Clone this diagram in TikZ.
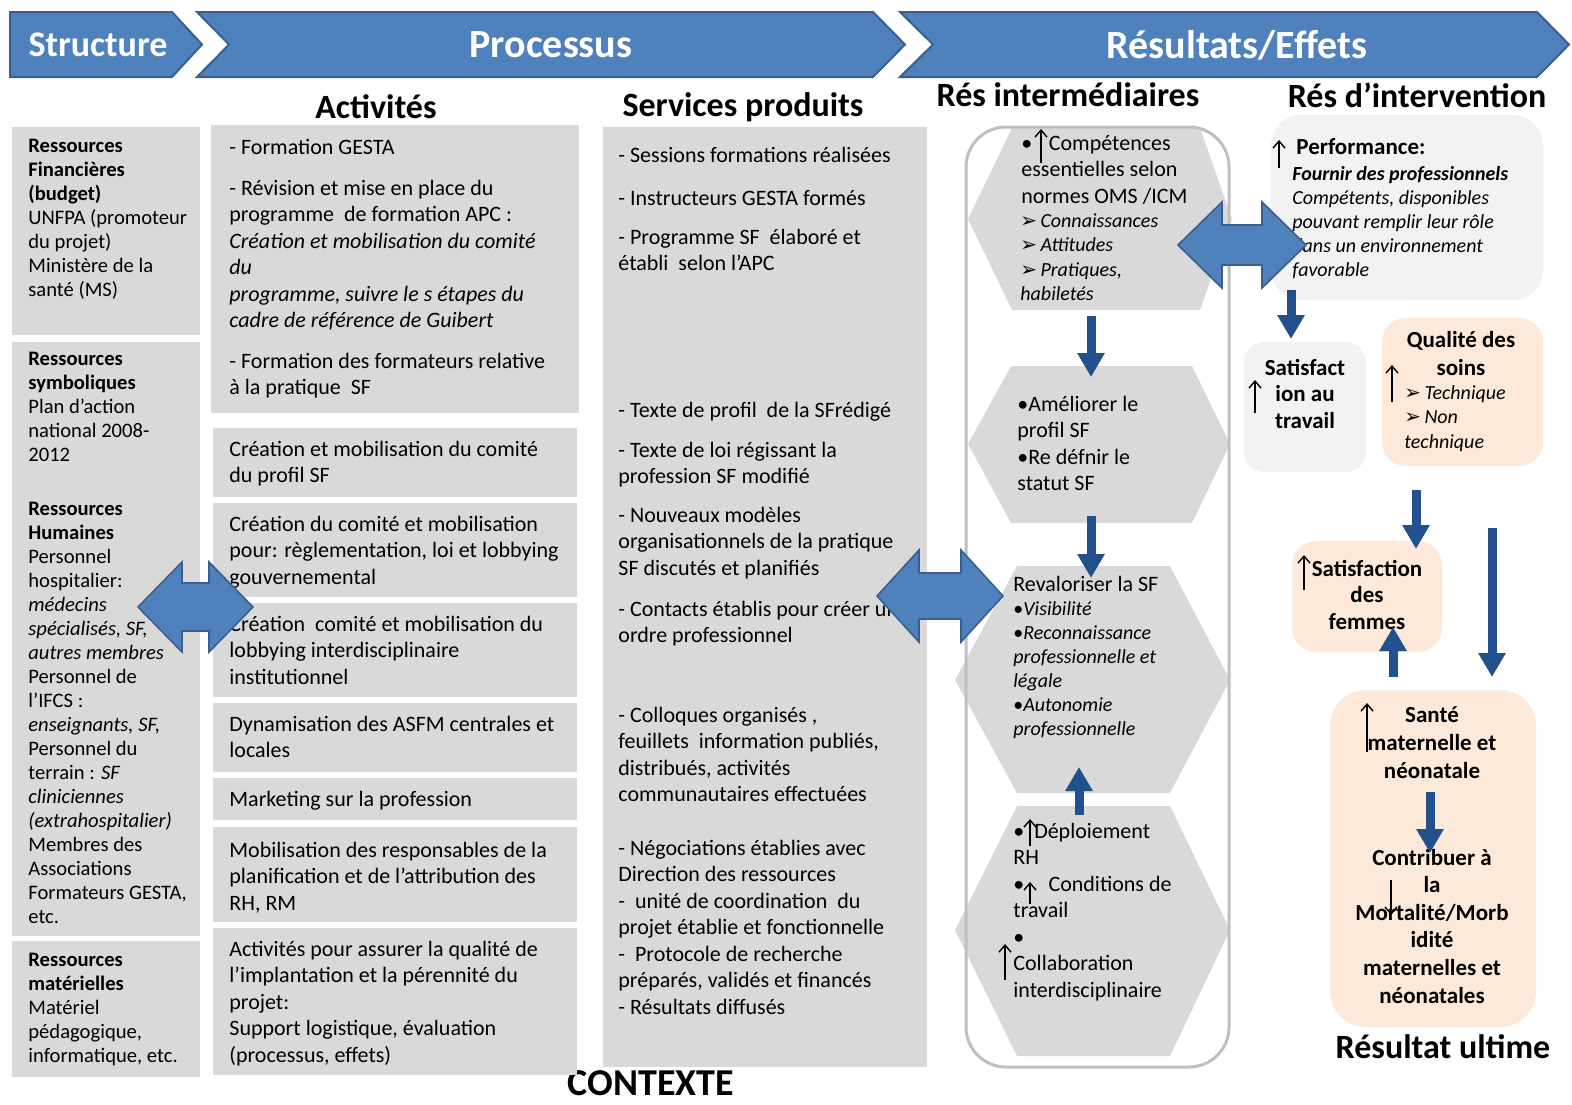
\documentclass[tikz,border=0pt]{standalone}
\usepackage{fontspec}
\setmainfont{Carlito}
\newfontfamily\dvsans{DejaVu Sans}
\usetikzlibrary{arrows.meta,fit}
\definecolor{bannerblue}{HTML}{4F81BD}
\definecolor{bannerline}{HTML}{3A5F8C}
\definecolor{boxgray}{HTML}{D9D9D9}
\definecolor{softgray}{HTML}{F2F2F2}
\definecolor{peach}{HTML}{FDE9D9}
\definecolor{navy}{HTML}{22508C}
\definecolor{framegray}{HTML}{BFBFBF}
% strut that fixes the top of every text block just under one em above its first baseline
\newcommand{\topln}{\rule{0pt}{0.9em}}
% list pointer glyph
\newcommand{\pointer}{{\upshape\dvsans\fontsize{10}{10}\selectfont ➢}}
\begin{document}
\begin{tikzpicture}[x=0.5pt,y=-0.5pt,
  banner/.style={fill=bannerblue, draw=bannerline, line width=1pt},
  bantext/.style={inner sep=0pt, text=white, font=\fontsize{20}{24}\selectfont\bfseries},
  heading/.style={inner sep=0pt, font=\fontsize{17}{20}\selectfont\bfseries},
  graybox/.style={inner sep=0pt, draw=none, fill=boxgray},
  softbox/.style={inner sep=0pt, draw=none, fill=softgray, rounded corners=#1},
  peachbox/.style={inner sep=0pt, draw=none, fill=peach, rounded corners=#1},
  hexa/.style={fill=boxgray, draw=none},
  shape holder/.style={inner sep=0pt, draw=none},
  txt/.style={inner sep=0pt, align=left, anchor=north west},
  ltx/.style={txt, font=\fontsize{10.3}{12}\selectfont},
  atx/.style={txt, font=\fontsize{11}{13.25}\selectfont},
  itx/.style={txt, font=\fontsize{10}{#1}\selectfont\itshape},
  itx/.default=12,
  ctx/.style={inner sep=0pt, align=center, anchor=north, font=\fontsize{11.5}{#1}\selectfont\bfseries},
  ctx/.default=13.25,
  blk/.style={draw=navy, line width=4.5pt, -{Triangle[length=12pt,width=13pt]}},
  dbl/.style={fill=bannerblue, draw=bannerline, line width=0.8pt},
  up/.style={draw=black, line width=0.7pt, -{Straight Barb[length=3.5pt,width=6pt]}},
]
\useasboundingbox (0,0) rectangle (1572,1104);

% ---------- banner ----------
\draw[banner] (10,12) -- (172,12) -- (202,44.5) -- (172,77) -- (10,77) -- cycle;
\draw[banner] (197,12) -- (873,12) -- (905,44.5) -- (873,77) -- (197,77) -- (229,44.5) -- cycle;
\draw[banner] (900,12) -- (1537,12) -- (1569,44.5) -- (1537,77) -- (900,77) -- (933,44.5) -- cycle;
\node[bantext, font=\fontsize{18}{22}\selectfont\bfseries] (structure) at (98,45) {Structure};
\node[bantext] (processus) at (551,45) {Processus};
\node[bantext] (resultats) at (1237,45) {Résultats/Effets};

% ---------- headings ----------
\node[heading] (hact) at (376,107) {Activités};
\node[heading] (hserv) at (743,107) {Services produits};
\node[heading] (hinter) at (1068,95) {Rés intermédiaires};
\node[heading] (hinterv) at (1417,95) {Rés d’intervention};
\node[heading] (hultime) at (1443,1047) {Résultat ultime};
\node[heading, font=\fontsize{19}{22}\selectfont\bfseries] (contexte) at (651,1083) {CONTEXTE};

% ---------- structure column ----------
\node[graybox, fit={(12,127)(200,335)}] (fin) {};
\node[graybox, fit={(12,342)(200,936)}] (hum) {};
\node[graybox, fit={(12,941)(200,1077)}] (mat) {};
\node[ltx] (tfin) at (28,134) {\topln\textbf{Ressources}\\\textbf{Financières}\\\textbf{(budget)}\\UNFPA (promoteur\\du projet)\\Ministère de la\\santé (MS)};
\node[ltx] (tsym) at (28,347) {\topln\textbf{Ressources}\\\textbf{symboliques}\\Plan d’action\\national 2008-\\2012};
\node[ltx] (thum) at (28,497) {\topln\textbf{Ressources}\\\textbf{Humaines}\\Personnel\\hospitalier:\\\textit{médecins}\\\textit{spécialisés, SF,}\\\textit{autres membres}\\Personnel de\\l’IFCS :\\\textit{enseignants, SF,}\\Personnel du\\terrain : \textit{SF}\\\textit{cliniciennes}\\\textit{(extrahospitalier)}\\Membres des\\Associations\\Formateurs GESTA,\\etc.};
\node[ltx] (tmat) at (28,948) {\topln\textbf{Ressources}\\\textbf{matérielles}\\Matériel\\pédagogique,\\informatique, etc.};

% ---------- activities ----------
\node[graybox, fit={(211,125)(579,413)}] (a1) {};
\node[graybox, fit={(213,428)(577,497)}] (a2) {};
\node[graybox, fit={(213,503)(577,597)}] (a3) {};
\node[graybox, fit={(213,603)(577,697)}] (a4) {};
\node[graybox, fit={(213,703)(577,772)}] (a5) {};
\node[graybox, fit={(213,778)(577,820)}] (a6) {};
\node[graybox, fit={(213,827)(577,922)}] (a7) {};
\node[graybox, fit={(213,928)(577,1075)}] (a8) {};
\node[atx] (ta1a) at (229,134) {\topln- Formation GESTA};
\node[atx] (ta1b) at (229,175) {\topln- Révision et mise en place du\\programme\ \ de formation APC :\\\textit{Création et mobilisation du comité}\\\textit{du}\\\textit{programme, suivre le s étapes du}\\\textit{cadre de référence de Guibert}};
\node[atx] (ta1c) at (229,348) {\topln- Formation des formateurs relative\\à la pratique\ \ SF};
\node[atx] (ta2) at (229,436) {\topln Création et mobilisation du comité\\du profil SF};
\node[atx] (ta3) at (229,511) {\topln Création du comité et mobilisation\\pour: règlementation, loi et lobbying\\gouvernemental};
\node[atx] (ta4) at (229,611) {\topln Création\ \ comité et mobilisation du\\lobbying interdisciplinaire\\institutionnel};
\node[atx] (ta5) at (229,711) {\topln Dynamisation des ASFM centrales et\\locales};
\node[atx] (ta6) at (229,786) {\topln Marketing sur la profession};
\node[atx] (ta7) at (229,837) {\topln Mobilisation des responsables de la\\planification et de l’attribution des\\RH, RM};
\node[atx] (ta8) at (229,936) {\topln Activités pour assurer la qualité de\\l’implantation et la pérennité du\\projet:\\Support logistique, évaluation\\(processus, effets)};

% ---------- services produits ----------
\node[graybox, fit={(603,127)(927,1067)}] (serv) {};
\node[atx] (ts1) at (618,142) {\topln - Sessions formations réalisées};
\node[atx] (ts2) at (618,185) {\topln- Instructeurs GESTA formés};
\node[atx] (ts3) at (618,224) {\topln- Programme SF\ \ élaboré et\\établi\ \ selon l’APC};
\node[atx] (ts4) at (618,397) {\topln- Texte de profil\ \ de la SFrédigé};
\node[atx] (ts5) at (618,437) {\topln- Texte de loi régissant la\\profession SF modifié};
\node[atx] (ts6) at (618,502) {\topln- Nouveaux modèles\\organisationnels de la pratique\\SF discutés et planifiés};
\node[atx] (ts7) at (618,596) {\topln- Contacts établis pour créer un\\ordre professionnel};
\node[atx] (ts8) at (618,702) {\topln- Colloques organisés ,\\feuillets\ \ information publiés,\\distribués, activités\\communautaires effectuées};
\node[atx] (ts9) at (618,835) {\topln- Négociations établies avec\\Direction des ressources\\-\ \ unité de coordination\ \ du\\projet établie et fonctionnelle\\-\ \ Protocole de recherche\\préparés, validés et financés\\- Résultats diffusés};

% ---------- intermediate results ----------
\fill[hexa] (968,219) -- (1012,128) -- (1200,128) -- (1232,219) -- (1200,310) -- (1012,310) -- cycle;
\fill[hexa] (968,444) -- (1011,366) -- (1192,366) -- (1230,444) -- (1192,523) -- (1011,523) -- cycle;
\fill[hexa] (955,680) -- (1017,566) -- (1170,566) -- (1230,680) -- (1170,793) -- (1017,793) -- cycle;
\fill[hexa] (955,930) -- (1017,806) -- (1170,806) -- (1230,930) -- (1170,1056) -- (1017,1056) -- cycle;
\node[shape holder, fit={(968,128)(1232,310)}] (h1) {};
\node[shape holder, fit={(968,366)(1230,523)}] (h2) {};
\node[shape holder, fit={(955,566)(1230,793)}] (h3) {};
\node[shape holder, fit={(955,806)(1230,1056)}] (h4) {};
\node[shape holder, fit={(966,127)(1229,1067)}, draw=framegray, line width=1.5pt, rounded corners=20pt] (frame) {};

\node[atx] (th1) at (1021,130) {\topln•\hspace{0.75em}Compétences\\essentielles selon\\normes OMS /ICM};
\node[itx=12.25] (th1b) at (1020,209) {\topln\pointer\,Connaissances\\\pointer\,Attitudes\\\pointer\,Pratiques,\\habiletés};
\node[atx] (th2) at (1017,391) {\topln•Améliorer le\\profil SF\\•Re défnir le\\statut SF};
\node[atx] (th3) at (1013,571) {\topln Revaloriser la SF};
\node[itx] (th3b) at (1013,597) {\topln{\upshape•}Visibilité\\{\upshape•}Reconnaissance\\professionnelle et\\légale\\{\upshape•}Autonomie\\professionnelle};
\node[atx] (th4) at (1013,818) {\topln•\hspace{0.45em}Déploiement\\RH\\•\hspace{1.1em}Conditions de\\travail\\•\\Collaboration\\interdisciplinaire};
\draw[up] (1041,163) -- (1041,129);
\draw[up] (1030,846) -- (1030,819);
\draw[up] (1030,904) -- (1030,882);
\draw[up] (1005,980) -- (1005,944);

% ---------- intervention and ultimate results ----------
\node[softbox=15pt, fit={(1271,115)(1543,300)}] (perf) {};
\node[softbox=10pt, fit={(1244,342)(1366,472)}] (sattrav) {};
\node[peachbox=12pt, fit={(1382,318)(1543,466)}] (qual) {};
\node[peachbox=12pt, fit={(1292,541)(1442,652)}] (satfem) {};
\node[peachbox=18pt, fit={(1330,690)(1536,1027)}] (sante) {};

\node[txt, font=\fontsize{11.5}{13.5}\selectfont\bfseries] (tperf) at (1296,133) {\topln Performance:};
\node[itx] (tperfb) at (1292,162) {\topln\textbf{Fournir des professionnels}\\Compétents, disponibles\\pouvant remplir leur rôle\\dans un environnement\\favorable};
\draw[up] (1279,168) -- (1279,140);
\node[ctx] (tsattrav) at (1305,354) {\topln Satisfact\\ion au\\travail};
\draw[up] (1255,413) -- (1255,380);
\node[ctx=14] (tqual) at (1461,326) {\topln Qualité des\\soins};
\node[itx=12.25] (tqualb) at (1404,381) {\topln\pointer\,Technique\\\pointer\,Non\\technique};
\draw[up] (1392,402) -- (1392,365);
\node[ctx] (tsatfem) at (1367,555) {\topln Satisfaction\\des\\femmes};
\draw[up] (1304,590) -- (1304,555);
\node[ctx=14] (tsante) at (1432,701) {\topln Santé\\maternelle et\\néonatale};
\draw[up] (1367,752) -- (1367,703);
\node[ctx=13.8] (tmort) at (1432,844) {\topln Contribuer à\\la\\Mortalité/Morb\\idité\\maternelles et\\néonatales};
\draw[up] (1391,880) -- (1391,915);

% ---------- flow arrows ----------
\coordinate (h1out) at (1091,316);
\coordinate (h2in) at (1091,377);
\coordinate (h2out) at (1091,516);
\coordinate (h3in) at (1091,578);
\coordinate (h4out) at (1079,815);
\coordinate (h3up) at (1079,767);
\coordinate (perfout) at (1291,290);
\coordinate (sattravin) at (1291,339);
\coordinate (qualout) at (1416,490);
\coordinate (satfemin) at (1416,549);
\coordinate (longtop) at (1492,528);
\coordinate (longbot) at (1492,677);
\coordinate (santeout) at (1393,677);
\coordinate (satfemup) at (1393,627);
\coordinate (santemid) at (1430,792);
\coordinate (mortin) at (1430,853);
\draw[blk] (h1out) -- (h2in);
\draw[blk] (h2out) -- (h3in);
\draw[blk] (h4out) -- (h3up);
\draw[blk] (perfout) -- (sattravin);
\draw[blk] (qualout) -- (satfemin);
\draw[blk] (longtop) -- (longbot);
\draw[blk] (santeout) -- (satfemup);
\draw[blk] (santemid) -- (mortin);

% ---------- two-way exchange arrows ----------
\draw[dbl] (138,607) -- (182,562) -- (182,583) -- (209,583) -- (209,562) -- (253,607) -- (209,652) -- (209,631) -- (182,631) -- (182,652) -- cycle;
\draw[dbl] (877,596) -- (919,550) -- (919,573) -- (961,573) -- (961,550) -- (1003,596) -- (961,642) -- (961,619) -- (919,619) -- (919,642) -- cycle;
\draw[dbl] (1178,245) -- (1222,202) -- (1222,225) -- (1262,225) -- (1262,202) -- (1306,245) -- (1262,288) -- (1262,265) -- (1222,265) -- (1222,288) -- cycle;
\end{tikzpicture}
\end{document}
